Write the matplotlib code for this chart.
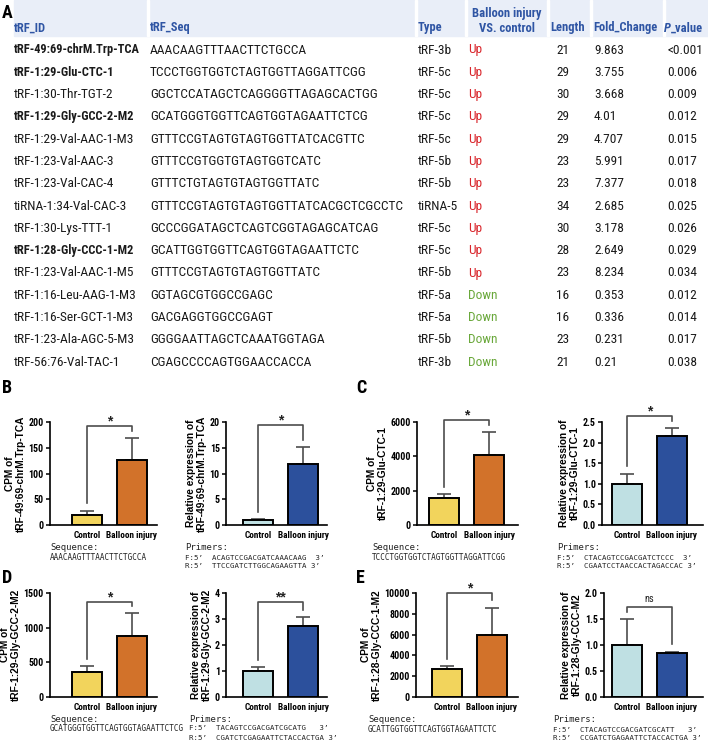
import matplotlib
matplotlib.use("Agg")
import matplotlib.pyplot as plt
from matplotlib.patches import Rectangle
from matplotlib import font_manager

W, H = 708, 741

# ---- table data (panel A) ----
trf_ids = ["tRF-49:69-chrM.Trp-TCA", "tRF-1:29-Glu-CTC-1", "tRF-1:30-Thr-TGT-2",
           "tRF-1:29-Gly-GCC-2-M2", "tRF-1:29-Val-AAC-1-M3", "tRF-1:23-Val-AAC-3",
           "tRF-1:23-Val-CAC-4", "tiRNA-1:34-Val-CAC-3", "tRF-1:30-Lys-TTT-1",
           "tRF-1:28-Gly-CCC-1-M2", "tRF-1:23-Val-AAC-1-M5", "tRF-1:16-Leu-AAG-1-M3",
           "tRF-1:16-Ser-GCT-1-M3", "tRF-1:23-Ala-AGC-5-M3", "tRF-56:76-Val-TAC-1"]
trf_seqs = ["AAACAAGTTTAACTTCTGCCA", "TCCCTGGTGGTCTAGTGGTTAGGATTCGG",
            "GGCTCCATAGCTCAGGGGTTAGAGCACTGG", "GCATGGGTGGTTCAGTGGTAGAATTCTCG",
            "GTTTCCGTAGTGTAGTGGTTATCACGTTC", "GTTTCCGTGGTGTAGTGGTCATC",
            "GTTTCTGTAGTGTAGTGGTTATC", "GTTTCCGTAGTGTAGTGGTTATCACGCTCGCCTC",
            "GCCCGGATAGCTCAGTCGGTAGAGCATCAG", "GCATTGGTGGTTCAGTGGTAGAATTCTC",
            "GTTTCCGTAGTGTAGTGGTTATC", "GGTAGCGTGGCCGAGC", "GACGAGGTGGCCGAGT",
            "GGGGAATTAGCTCAAATGGTAGA", "CGAGCCCCAGTGGAACCACCA"]
trf_types = ["tRF-3b", "tRF-5c", "tRF-5c", "tRF-5c", "tRF-5c", "tRF-5b", "tRF-5b",
             "tiRNA-5", "tRF-5c", "tRF-5c", "tRF-5b", "tRF-5a", "tRF-5a", "tRF-5b", "tRF-3b"]
regulation = ["Up"] * 11 + ["Down"] * 4
lengths = [21, 29, 30, 29, 29, 23, 23, 34, 30, 28, 23, 16, 16, 23, 21]
fold_change = ["9.863", "3.755", "3.668", "4.01", "4.707", "5.991", "7.377", "2.685",
               "3.178", "2.649", "8.234", "0.353", "0.336", "0.231", "0.21"]
p_values = ["<0.001", "0.006", "0.009", "0.012", "0.015", "0.017", "0.018", "0.025",
            "0.026", "0.029", "0.034", "0.012", "0.014", "0.017", "0.038"]
bold_rows = [0, 1, 3, 9]

# ---- bar chart data (panels B-E) ----
panel_letters = ["B", "C", "D", "E"]
names = ["tRF-49:69-chrM.Trp-TCA", "tRF-1:29-Glu-CTC-1", "tRF-1:29-Gly-GCC-2-M2", "tRF-1:28-Gly-CCC-1-M2"]
rel_names = ["tRF-49:69-chrM.Trp-TCA", "tRF-1:29-Glu-CTC-1", "tRF-1:29-Gly-GCC-2-M2", "tRF-1:28-Gly-CCC-M2"]
groups = ["Control", "Balloon injury"]

cpm_ctrl = [20, 1600, 360, 2700]
cpm_ctrl_err = [8, 180, 80, 250]
cpm_bi = [127, 4100, 880, 6000]
cpm_bi_err = [42, 1330, 330, 2600]
cpm_ymax = [200, 6000, 1500, 10000]
cpm_step = [50, 2000, 500, 2000]
cpm_sig = ["*", "*", "*", "*"]
cpm_bracket = [192, 6100, 1370, 10000]

rel_ctrl = [1.0, 1.0, 1.0, 1.0]
rel_ctrl_err = [0.2, 0.25, 0.15, 0.5]
rel_bi = [11.9, 2.17, 2.75, 0.85]
rel_bi_err = [3.2, 0.18, 0.32, 0.02]
rel_ymax = [20, 2.5, 4, 2.0]
rel_step = [5, 0.5, 1, 0.5]
rel_sig = ["*", "*", "**", "ns"]
rel_bracket = [19.4, 2.64, 3.65, 1.73]

sequences = ["AAACAAGTTTAACTTCTGCCA", "TCCCTGGTGGTCTAGTGGTTAGGATTCGG",
             "GCATGGGTGGTTCAGTGGTAGAATTCTCG", "GCATTGGTGGTTCAGTGGTAGAATTCTC"]
primers_f = ["ACAGTCCGACGATCAAACAAG  3\u2019", "CTACAGTCCGACGATCTCCC  3\u2019",
             "TACAGTCCGACGATCGCATG   3\u2019", "CTACAGTCCGACGATCGCATT   3\u2019"]
primers_r = ["TTCCGATCTTGGCAGAAGTTA 3\u2019", "CGAATCCTAACCACTAGACCAC 3\u2019",
             "CGATCTCGAGAATTCTACCACTGA 3\u2019", "CCGATCTGAGAATTCTACCACTGA 3\u2019"]

# ---- fonts: pick a condensed sans if there is one ----
entries = font_manager.fontManager.ttflist
installed = {f.name for f in entries}
cond_font, cond_stretch = None, "normal"
for c in ["Liberation Sans Narrow", "Arial Narrow", "Roboto Condensed", "Open Sans Condensed",
          "Noto Sans Condensed"]:
    if c in installed:
        cond_font = c
        break
if cond_font is None:
    for fam in ["Noto Sans", "Open Sans", "Roboto", "DejaVu Sans"]:
        hits = [f for f in entries if f.name == fam and f.stretch in ("condensed", "semi-condensed")]
        if hits:
            cond_font, cond_stretch = fam, hits[0].stretch
            break
if cond_font is None:
    cond_font = "Liberation Sans"

plt.rcParams['font.family'] = ['Liberation Sans', 'DejaVu Sans']
COND = dict(family=cond_font, fontstretch=cond_stretch)
MONO = dict(family="DejaVu Sans Mono")

fig = plt.figure(figsize=(W / 100, H / 100), dpi=100)
renderer = fig.canvas.get_renderer()


def fit_size(s, target_px, **kw):
    # font size that makes string s about target_px wide
    t = fig.text(0, 0, s, fontsize=10, **kw)
    w = t.get_window_extent(renderer=renderer).width
    t.remove()
    return 10 * target_px / w


def ftext(x, y, s, **kw):
    return fig.text(x / W, 1 - y / H, s, **kw)


def add_ax(left, right, top, bottom):
    return fig.add_axes([left / W, 1 - bottom / H, (right - left) / W, (bottom - top) / H])


# ---------------- Panel A: table ----------------
hdr_blue = "#2f55a4"
fig.patches.append(Rectangle((14 / W, 1 - 36 / H), (W - 14) / W, 36 / H,
                             transform=fig.transFigure, color="#e9eef8", zorder=0))
for sx in [148, 416, 466, 548, 591, 664]:
    fig.patches.append(Rectangle(((sx - 1) / W, 1 - 36 / H), 2 / W, 36 / H,
                                 transform=fig.transFigure, color="white", zorder=0))

body_size = fit_size(trf_seqs[7], 253, **COND)
id_bold_size = min(body_size, fit_size(trf_ids[0], 126, fontweight="bold", **COND))
hdr_size = fit_size("Fold_Change", 64, fontweight="bold", **COND)
letter_size = 13

ftext(2, 13, "A", fontsize=letter_size, fontweight="bold", va="center", **COND)
hdr = dict(fontsize=hdr_size, fontweight="bold", color=hdr_blue, va="center", **COND)
ftext(14, 28, "tRF_ID", **hdr)
ftext(150, 28, "tRF_Seq", **hdr)
ftext(418, 28, "Type", **hdr)
ftext(507, 14, "Balloon injury", ha="center", **hdr)
ftext(507, 28, "VS. control", ha="center", **hdr)
ftext(550, 28, "Length", **hdr)
ftext(593, 28, "Fold_Change", **hdr)
p_lab = ftext(664, 28, "P", fontstyle="italic", **hdr)
p_w = p_lab.get_window_extent(renderer=renderer).width
ftext(664 + p_w, 28, "_value", **hdr)

row_y0, row_dy = 50, 22.3
for i in range(len(trf_ids)):
    y = row_y0 + i * row_dy
    body = dict(va="center", color="#1a1a1a", **COND)
    if i in bold_rows:
        ftext(14, y, trf_ids[i], fontsize=id_bold_size, fontweight="bold", **body)
    else:
        ftext(14, y, trf_ids[i], fontsize=body_size, **body)
    ftext(150, y, trf_seqs[i], fontsize=body_size, **body)
    ftext(418, y, trf_types[i], fontsize=body_size, **body)
    ftext(468, y, regulation[i], fontsize=body_size, va="center",
          color="#d9262c" if regulation[i] == "Up" else "#6aa83b", **COND)
    ftext(556, y, str(lengths[i]), fontsize=body_size, **body)
    ftext(594, y, fold_change[i], fontsize=body_size, **body)
    ftext(667, y, p_values[i], fontsize=body_size, **body)

# ---------------- Panels B-E: bar charts ----------------
# pixel layout: (axis left, control centre, axis right) for cpm and rel charts
layout = {
    "B": dict(top=422, bottom=525, cpm=(50, 87, 157), rel=(226, 258, 327),
              seq_x=50, pri_x=185, txt_y=548, letter=(2, 388)),
    "C": dict(top=422, bottom=525, cpm=(417, 444, 518), rel=(602, 627, 703),
              seq_x=372, pri_x=557, txt_y=548, letter=(356, 388)),
    "D": dict(top=593, bottom=697, cpm=(50, 87, 157), rel=(226, 258, 327),
              seq_x=50, pri_x=189, txt_y=719, letter=(2, 578)),
    "E": dict(top=593, bottom=697, cpm=(416, 447, 518), rel=(604, 627, 703),
              seq_x=368, pri_x=553, txt_y=720, letter=(356, 578)),
}
spacing = 45.0
yellow, orange = "#f2d45c", "#d2722a"
light_blue, dark_blue = "#bfe0e3", "#2c509c"
grey = "#4d4d4d"

xtick_size = min(fit_size("Balloon injury", 51, fontweight="bold", **COND), 7.5)
ytick_size = min(fit_size("10000", 25, fontweight="bold", **COND), 7.2)
ylab_size = 7.3
seq_size = fit_size(sequences[2], 133, **MONO)
pri_size = fit_size("F:5\u2019  " + primers_f[0], 138, **MONO)
seqhdr_size = fit_size("Sequence:", 48, **MONO)


def fmt_tick(v, step):
    return f"{v:.1f}" if step < 1 else f"{int(round(v))}"


def bar_chart(pos, top, bottom, ctrl, ctrl_err, bi, bi_err, ymax, step, sig, brk,
              colors, ylabel):
    left, cc, right = pos
    ax = add_ax(left, right, top, bottom)
    x0 = -(cc - left) / spacing
    ax.set_xlim(x0, x0 + (right - left) / spacing)
    ax.set_ylim(0, ymax)
    xs = [0, 1]
    means = [ctrl, bi]
    errs = [ctrl_err, bi_err]
    ax.errorbar(xs, means, yerr=[[0, 0], errs], fmt="none", ecolor=grey,
                elinewidth=1.2, capsize=5, capthick=1.2, zorder=1)
    ax.bar(xs, means, width=0.65, color=colors, edgecolor="black", linewidth=1.4, zorder=2)
    gap = 0.07 * ymax
    ax.plot([0, 0, 1, 1], [ctrl + ctrl_err + gap, brk, brk, bi + bi_err + gap],
            color=grey, lw=1.2, clip_on=False, zorder=3)
    if sig == "ns":
        ax.text(0.5, brk + 0.03 * ymax, sig, ha="center", va="bottom", fontsize=7.5,
                color="#222222", clip_on=False, **COND)
    else:
        ax.text(0.5, brk - 0.02 * ymax, sig, ha="center", va="bottom", fontsize=10,
                fontweight="bold", color="#222222", clip_on=False)
    ticks = []
    v = 0.0
    while v <= ymax + 1e-9:
        ticks.append(v)
        v += step
    ax.set_yticks(ticks)
    ax.set_yticklabels([fmt_tick(t, step) for t in ticks], fontsize=ytick_size,
                       fontweight="bold", **COND)
    ax.set_xticks(xs)
    ax.set_xticklabels(groups, fontsize=xtick_size, fontweight="bold", **COND)
    ax.tick_params(axis="x", length=0, pad=4)
    ax.tick_params(axis="y", length=3, width=1.1, pad=1.5)
    for s in ["top", "right"]:
        ax.spines[s].set_visible(False)
    for s in ["left", "bottom"]:
        ax.spines[s].set_linewidth(1.2)
    ax.set_ylabel(ylabel, fontsize=ylab_size, fontweight="bold", labelpad=2,
                  linespacing=1.1, family="Liberation Sans")
    return ax


for i, p in enumerate(panel_letters):
    lay = layout[p]
    ftext(lay["letter"][0], lay["letter"][1], p, fontsize=letter_size, fontweight="bold",
          va="center", **COND)
    bar_chart(lay["cpm"], lay["top"], lay["bottom"], cpm_ctrl[i], cpm_ctrl_err[i], cpm_bi[i],
              cpm_bi_err[i], cpm_ymax[i], cpm_step[i], cpm_sig[i], cpm_bracket[i],
              [yellow, orange], "CPM of\n" + names[i])
    bar_chart(lay["rel"], lay["top"], lay["bottom"], rel_ctrl[i], rel_ctrl_err[i], rel_bi[i],
              rel_bi_err[i], rel_ymax[i], rel_step[i], rel_sig[i], rel_bracket[i],
              [light_blue, dark_blue], "Relative expression of\n" + rel_names[i])
    ty = lay["txt_y"]
    ftext(lay["seq_x"], ty, "Sequence:", fontsize=seqhdr_size, va="center", color="#222222", **MONO)
    ftext(lay["seq_x"], ty + 9.5, sequences[i], fontsize=seq_size, va="center", color="#222222", **MONO)
    ftext(lay["pri_x"], ty, "Primers:", fontsize=seqhdr_size, va="center", color="#222222", **MONO)
    ftext(lay["pri_x"], ty + 9.5, "F:5\u2019  " + primers_f[i], fontsize=pri_size, va="center",
          color="#222222", **MONO)
    ftext(lay["pri_x"], ty + 18.5, "R:5\u2019  " + primers_r[i], fontsize=pri_size, va="center",
          color="#222222", **MONO)

fig.savefig("out.png", dpi=100)
